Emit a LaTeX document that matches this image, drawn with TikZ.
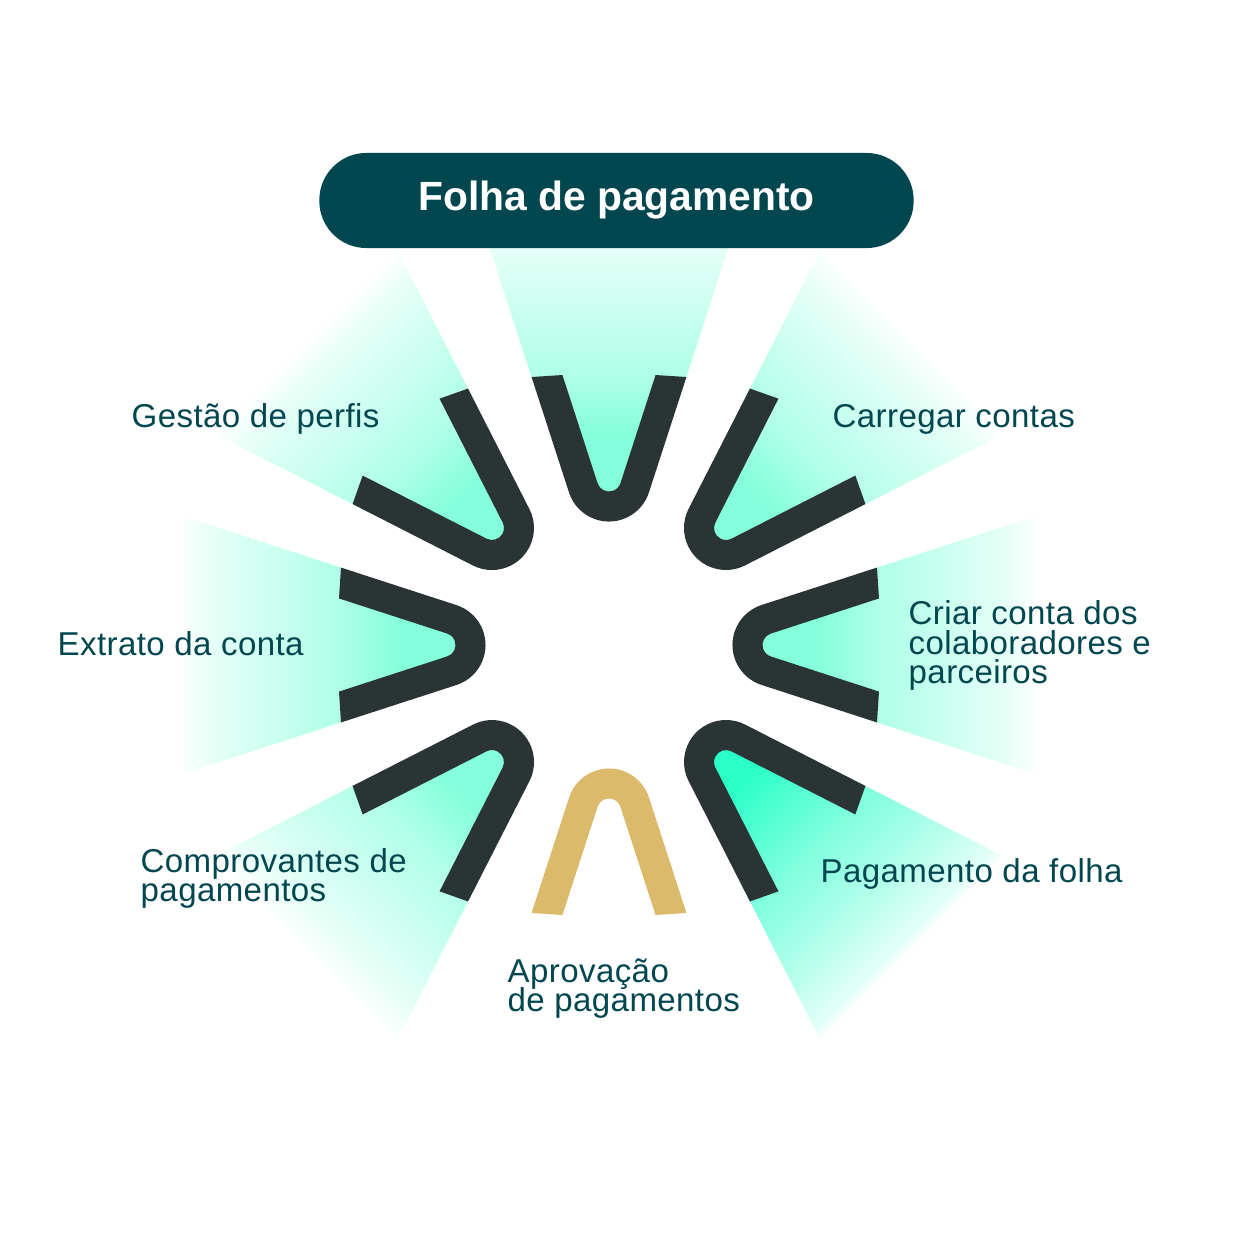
\documentclass[tikz,border=0pt]{standalone}
\usepackage{fontspec}
\setmainfont{Liberation Sans}
\newfontfamily\labelfont[LetterSpace=1.2]{Liberation Sans}
\newcommand{\labelsetup}{\labelfont\fontsize{9.4}{8.25}\selectfont\lineskiplimit=-5pt\relax}
\definecolor{pillteal}{HTML}{02474F}
\definecolor{banddark}{HTML}{2B3435}
\definecolor{bandgold}{HTML}{DBBB6B}
\definecolor{raysoft}{HTML}{85FFDB}
\definecolor{raystrong}{HTML}{2AFFC6}
\pgfdeclareverticalshading{softfade}{100bp}{color(0bp)=(raysoft); color(36bp)=(raysoft);
   color(46.6bp)=(raysoft!66); color(60.6bp)=(raysoft!38); color(69bp)=(raysoft!21);
   color(75bp)=(white); color(100bp)=(white)}
\pgfdeclareverticalshading{strongfade}{100bp}{color(0bp)=(raystrong); color(32.4bp)=(raystrong);
   color(49.6bp)=(raystrong!60); color(60.8bp)=(raystrong!40); color(72.5bp)=(raystrong!14);
   color(75bp)=(white); color(100bp)=(white)}
\begin{document}
\begin{tikzpicture}[
      x=0.01cm, y=0.01cm,
      step label/.style = {anchor=base west, align=left, text=pillteal, inner sep=0pt,
         font=\labelsetup},
      title pill/.style = {fill=pillteal, text=white, rounded corners=0.47cm,
         minimum width=5.94cm, minimum height=0.95cm, inner sep=0pt,
         font=\bfseries\fontsize{11.6}{12}\selectfont},
      % ray behind a band, #1 is its shading
      pics/ray/.style = {code={
         \begin{scope}
            \pgflowlevelsynccm
            \shade[shading=#1]
               (-130.1,430) -- (-74.8,260) -- (-27,160) -- (0,148)
               -- (27,160) -- (74.8,260) -- (130.1,430) -- cycle;
         \end{scope}
      }},
      % band: radius of outer corner / radius of inner corner / colour
      pics/band/.style args = {#1/#2/#3}{code={
         \fill[#3] ({39.9+(#1-152.5)*0.325},#1) -- (39.9,152.5)
            arc[start angle=-18, end angle=-162, radius=42]
            -- ({-39.9-(#1-152.5)*0.325},#1)
            -- ({-11.4-(#2-161.8)*0.325},#2) -- (-11.4,161.8)
            arc[start angle=198, end angle=342, radius=12]
            -- ({11.4+(#2-161.8)*0.325},#2) -- cycle;
      }}
]

      \path[use as bounding box] (0,0) rectangle (1250,-1253);
      \coordinate (hub) at (609,-645);

      % rays
      \pic[rotate=0]    at (hub) {ray=softfade};
      \pic[rotate=-45]  at (hub) {ray=softfade};
      \pic[rotate=-90]  at (hub) {ray=softfade};
      \pic[rotate=-135] at (hub) {ray=strongfade};
      \pic[rotate=135]  at (hub) {ray=softfade};
      \pic[rotate=90]   at (hub) {ray=softfade};
      \pic[rotate=45]   at (hub) {ray=softfade};

      % bands
      \pic[rotate=0]    at (hub) {band=268/270/banddark};
      \pic[rotate=-45]  at (hub) {band=281/294/banddark};
      \pic[rotate=-90]  at (hub) {band=268/270/banddark};
      \pic[rotate=-135] at (hub) {band=281/294/banddark};
      \pic[rotate=180]  at (hub) {band=268/270/bandgold};
      \pic[rotate=135]  at (hub) {band=281/294/banddark};
      \pic[rotate=90]   at (hub) {band=268/270/banddark};
      \pic[rotate=45]   at (hub) {band=281/294/banddark};

      \node[title pill] (title) at (616.5,-200.5) {Folha de pagamento};

      % labels
      \node[step label] (perfis)   at (131,-427)  {Gestão de perfis};
      \node[step label] (contas)   at (832,-427)  {Carregar contas};
      \node[step label] (extrato)  at (57,-655)   {Extrato da conta};
      \node[step label] (criar)    at (908,-683)  {Criar conta dos\\colaboradores e\\parceiros};
      \node[step label] (folha)    at (820,-882)  {Pagamento da folha};
      \node[step label] (recibos)  at (140,-901)  {Comprovantes de\\pagamentos};
      \node[step label] (aprova)   at (507,-1011) {Aprovação\\de pagamentos};

\end{tikzpicture}
\end{document}
